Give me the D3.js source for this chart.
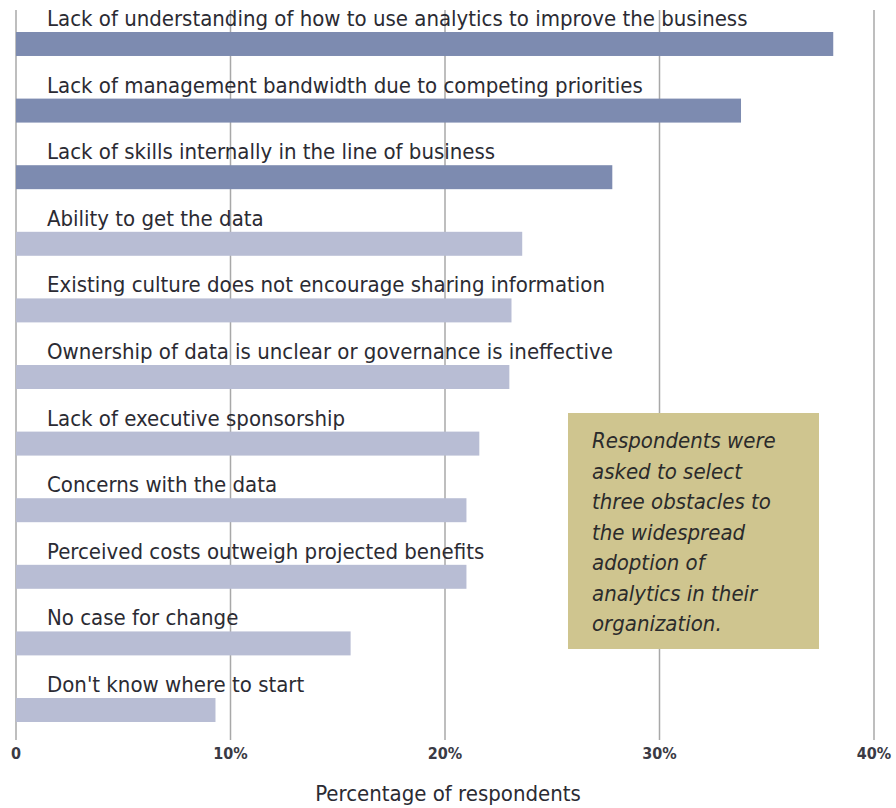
<!DOCTYPE html>
<html><head><meta charset="utf-8">
<script src="https://cdn.jsdelivr.net/npm/d3@7"></script>
<style>body{margin:0;background:#fff}svg{display:block}</style>
</head><body>
<svg id="c" width="896" height="808"></svg>
<script>
const categories = [
  "Lack of understanding of how to use analytics to improve the business",
  "Lack of management bandwidth due to competing priorities",
  "Lack of skills internally in the line of business",
  "Ability to get the data",
  "Existing culture does not encourage sharing information",
  "Ownership of data is unclear or governance is ineffective",
  "Lack of executive sponsorship",
  "Concerns with the data",
  "Perceived costs outweigh projected benefits",
  "No case for change",
  "Don't know where to start"
];
const values = [38.1, 33.8, 27.8, 23.6, 23.1, 23.0, 21.6, 21.0, 21.0, 15.6, 9.3];
const highlighted = [true, true, true, false, false, false, false, false, false, false, false];
const ticks = [0, 10, 20, 30, 40];
const tickLabels = ["0", "10%", "20%", "30%", "40%"];
const axisTitle = "Percentage of respondents";
const noteLines = ["Respondents were", "asked to select", "three obstacles to", "the widespread", "adoption of", "analytics in their", "organization."];

const svg = d3.select("#c");
const FONT = "'Liberation Sans Narrow','DejaVu Sans Condensed','Roboto Condensed',sans-serif";
const x = d3.scaleLinear().domain([0, 40]).range([16, 874]);
const y = d3.scaleBand().domain(categories).range([32, 722]).paddingInner(0.64).paddingOuter(0);

// grid lines
const gridTop = 10, gridBottom = 740;
svg.append("g").selectAll("line").data(ticks).join("line")
  .attr("x1", d => x(d)).attr("x2", d => x(d))
  .attr("y1", gridTop).attr("y2", gridBottom)
  .attr("stroke", "#a8a8a8").attr("stroke-width", 1.5);

// bars
svg.append("g").selectAll("rect").data(categories).join("rect")
  .attr("x", x(0)).attr("y", d => y(d))
  .attr("width", (d, i) => x(values[i]) - x(0))
  .attr("height", y.bandwidth())
  .attr("fill", (d, i) => highlighted[i] ? "#7d8bb0" : "#b8bdd4");

// labels
svg.append("g").selectAll("text").data(categories).join("text")
  .attr("x", 47).attr("y", d => y(d) - 6)
  .attr("font-family", FONT).attr("font-size", 22).attr("fill", "#2b2b33")
  .text(d => d);

// note box
const bx = 568, by = 413, bw = 251, bh = 236;
svg.append("rect").attr("x", bx).attr("y", by).attr("width", bw).attr("height", bh)
  .attr("fill", "#cfc58f");
svg.append("g").selectAll("text").data(noteLines).join("text")
  .attr("x", 592).attr("y", (d, i) => 448 + i * 30.5)
  .attr("font-family", FONT).attr("font-style", "italic").attr("font-size", 22)
  .attr("fill", "#2b2b2b").text(d => d);

// tick labels
svg.append("g").selectAll("text").data(ticks).join("text")
  .attr("x", d => x(d)).attr("y", 759).attr("text-anchor", "middle")
  .attr("font-family", FONT).attr("font-weight", "bold").attr("font-size", 16)
  .attr("fill", "#3a3a44").text((d, i) => tickLabels[i]);

svg.append("text").attr("x", 448).attr("y", 801).attr("text-anchor", "middle")
  .attr("font-family", FONT).attr("font-size", 22).attr("fill", "#2b2b33")
  .text(axisTitle);
</script>
</body></html>
